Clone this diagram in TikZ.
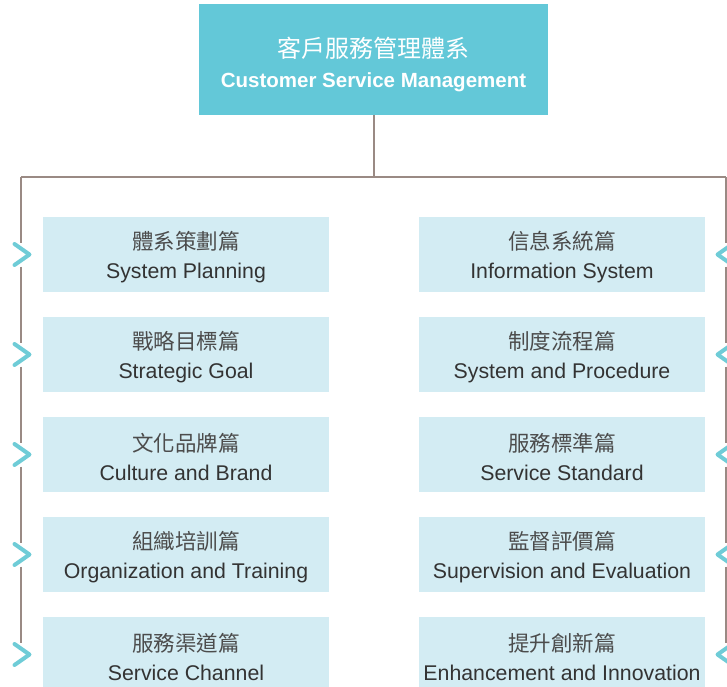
\documentclass[tikz,border=0pt]{standalone}
\usepackage{fontspec}
\setmainfont{Liberation Sans}
\newfontfamily\cjk{Noto Sans CJK TC}
\definecolor{headcyan}{HTML}{63C8D8}
\definecolor{boxblue}{HTML}{D3ECF3}
\definecolor{linebrown}{HTML}{9A8A84}
\definecolor{chevcyan}{HTML}{6FCCD7}
\definecolor{textgray}{HTML}{333333}
\tikzset{
  headbox/.style={fill=headcyan, text=white, minimum width=349pt, minimum height=111pt, align=center, inner sep=0pt,
    font=\fontsize{20.5}{30}\selectfont},
  partbox/.style={fill=boxblue, text=textgray, minimum width=286pt, minimum height=75pt, align=center, inner sep=0pt,
    font=\fontsize{21.3}{28.5}\selectfont},
  trunk/.style={draw=linebrown, line width=2pt},
  chev/.style={draw=chevcyan, line width=4pt, line cap=round, line join=round}
}
\newcommand{\zh}[1]{\rule{0pt}{23pt}{\cjk\fontsize{21.5}{28.5}\selectfont\color{black!70}#1}}
\begin{document}
\begin{tikzpicture}[x=1pt,y=-1pt]
        \useasboundingbox (0,0) rectangle (727,686);
        \clip (0,0) rectangle (727,686);

        % Head
        \node[headbox] (root) at (373.5,59.5) {\rule{0pt}{30pt}{\cjk\fontsize{24}{30}\selectfont 客戶服務管理體系}\\{\bfseries Customer Service Management}};

        % Left column
        \node[partbox] (sysplan) at (186,254.5) {\zh{體系策劃篇}\\System Planning};
        \node[partbox] (strategy) at (186,354.5) {\zh{戰略目標篇}\\Strategic Goal};
        \node[partbox] (culture) at (186,454.5) {\zh{文化品牌篇}\\Culture and Brand};
        \node[partbox] (training) at (186,554.5) {\zh{組織培訓篇}\\Organization and Training};
        \node[partbox] (channel) at (186,654.5) {\zh{服務渠道篇}\\Service Channel};

        % Right column
        \node[partbox] (infosys) at (562,254.5) {\zh{信息系統篇}\\Information System};
        \node[partbox] (procedure) at (562,354.5) {\zh{制度流程篇}\\System and Procedure};
        \node[partbox] (standard) at (562,454.5) {\zh{服務標準篇}\\Service Standard};
        \node[partbox] (supervision) at (562,554.5) {\zh{監督評價篇}\\Supervision and Evaluation};
        \node[partbox] (innovation) at (562,654.5) {\zh{提升創新篇}\\Enhancement and Innovation};

        % Bus
        \coordinate (bus) at (373.5,177);
        \coordinate (busL) at (21,177);
        \coordinate (busR) at (726,177);
        \coordinate (cl1) at (21,254.5);
        \coordinate (cl2) at (21,354.5);
        \coordinate (cl3) at (21,454.5);
        \coordinate (cl4) at (21,554.5);
        \coordinate (cl5) at (21,654.5);
        \coordinate (cr1) at (726,254.5);
        \coordinate (cr2) at (726,354.5);
        \coordinate (cr3) at (726,454.5);
        \coordinate (cr4) at (726,554.5);
        \coordinate (cr5) at (726,654.5);

        \draw[trunk] (root.south) -- (bus);
        \draw[trunk] (busL) -- (busR);
        \draw[trunk] (busL) -- ([yshift=12pt]cl1);
        \draw[trunk] ([yshift=-12pt]cl1) -- ([yshift=12pt]cl2);
        \draw[trunk] ([yshift=-12pt]cl2) -- ([yshift=12pt]cl3);
        \draw[trunk] ([yshift=-12pt]cl3) -- ([yshift=12pt]cl4);
        \draw[trunk] ([yshift=-12pt]cl4) -- ([yshift=12pt]cl5);
        \draw[trunk] (busR) -- ([yshift=12pt]cr1);
        \draw[trunk] ([yshift=-12pt]cr1) -- ([yshift=12pt]cr2);
        \draw[trunk] ([yshift=-12pt]cr2) -- ([yshift=12pt]cr3);
        \draw[trunk] ([yshift=-12pt]cr3) -- ([yshift=12pt]cr4);
        \draw[trunk] ([yshift=-12pt]cr4) -- ([yshift=12pt]cr5);

        % Chevrons
        \foreach \c in {cl1,cl2,cl3,cl4,cl5}
          \draw[chev] ([shift={(-6.5,-10.5)}]\c) -- ([shift={(8.5,0)}]\c) -- ([shift={(-6.5,10.5)}]\c);
        \foreach \c in {cr1,cr2,cr3,cr4,cr5}
          \draw[chev] ([shift={(6.5,-10.5)}]\c) -- ([shift={(-8.5,0)}]\c) -- ([shift={(6.5,10.5)}]\c);
    \end{tikzpicture}
\end{document}
